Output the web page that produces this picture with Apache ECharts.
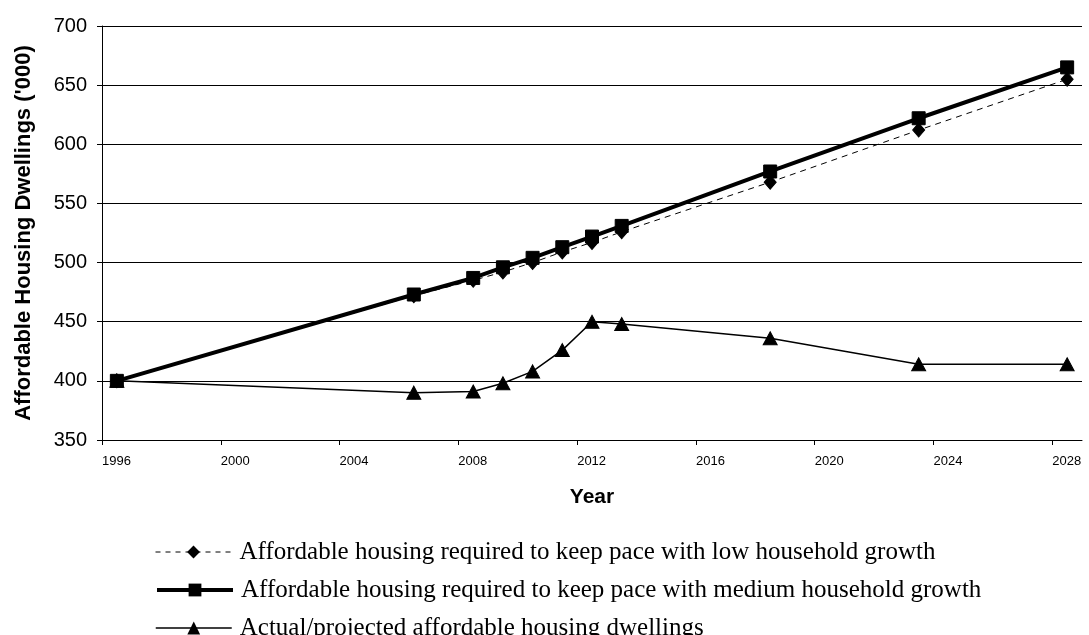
<!DOCTYPE html>
<html>
<head>
<meta charset="utf-8">
<script src="https://cdn.jsdelivr.net/npm/echarts@6/dist/echarts.min.js"></script>
<style>
html,body{margin:0;padding:0;background:#fff;}
#chart{width:1089px;height:635px;}
</style>
</head>
<body>
<div id="chart"></div>
<script>
var years = [1996.5, 2006.5, 2008.5, 2009.5, 2010.5, 2011.5, 2012.5, 2013.5, 2018.5, 2023.5, 2028.5];
var lowGrowth = [400, 472, 485, 492, 500, 509, 517, 526, 568, 612, 655];
var mediumGrowth = [400, 473, 487, 496, 504, 513, 522, 531, 577, 622, 665];
var actualDwellings = [400, 390, 391, 398, 408, 426, 450, 448, 436, 414, 414];
var xTickLabels = [1996, 2000, 2004, 2008, 2012, 2016, 2020, 2024, 2028];
var seriesNames = [
  'Affordable housing required to keep pace with low household growth',
  'Affordable housing required to keep pace with medium household growth',
  'Actual/projected affordable housing dwellings'
];

function pairs(xs, ys){ return xs.map(function(x,i){ return [x, ys[i]]; }); }

var legendLineStyles = [
  {width: 1, type: [5,5], color: '#000'},
  {width: 4, color: '#000'},
  {width: 1.5, color: '#000'}
];
var legends = seriesNames.map(function(n, i){
  return {
    orient: 'vertical', left: 150, top: 533 + i * 38,
    itemWidth: 76, itemHeight: 16, itemGap: 10,
    textStyle: {fontFamily: 'Liberation Serif', fontSize: 25, color: '#000', lineHeight: 28, padding: [0,0,0,3]},
    data: [{name: n, lineStyle: legendLineStyles[i]}]
  };
});

var chart = echarts.init(document.getElementById('chart'), null, {renderer:'canvas'});
chart.setOption({
  animation: false,
  backgroundColor: '#fff',
  grid: {left: 102, right: 7, top: 26, bottom: 195, containLabel: false},
  xAxis: {
    type: 'value', min: 1996, max: 2029, interval: 4,
    name: 'Year', nameLocation: 'middle', nameGap: 47,
    nameTextStyle: {fontFamily: 'Liberation Sans', fontWeight: 'bold', fontSize: 21, color: '#000'},
    axisLine: {show: true, lineStyle: {color: '#000', width: 1}},
    axisTick: {show: true, length: 5, inside: false, lineStyle: {color: '#000'}, customValues: xTickLabels},
    axisLabel: {customValues: xTickLabels, align: 'left', margin: 15, fontFamily: 'Liberation Sans', fontSize: 13, color: '#000',
      formatter: function(v){ return String(v); }},
    splitLine: {show: false}
  },
  yAxis: {
    type: 'value', min: 350, max: 700, interval: 50,
    name: "Affordable Housing Dwellings ('000)", nameLocation: 'middle', nameGap: 67,
    nameTextStyle: {fontFamily: 'Liberation Sans', fontWeight: 'bold', fontSize: 22, color: '#000'},
    axisLine: {show: true, lineStyle: {color: '#000', width: 1}},
    axisTick: {show: true, length: 5, lineStyle: {color: '#000'}},
    axisLabel: {margin: 15, fontFamily: 'Liberation Sans', fontSize: 20, color: '#000'},
    splitLine: {show: true, lineStyle: {color: '#000', width: 1}}
  },
  legend: legends,
  series: [
    {
      name: seriesNames[0], type: 'line', data: pairs(years, lowGrowth),
      symbol: 'diamond', symbolSize: [12,14], z: 3,
      lineStyle: {color: '#000', width: 1, type: [6,5]},
      itemStyle: {color: '#000', borderColor: '#000'}
    },
    {
      name: seriesNames[1], type: 'line', data: pairs(years, mediumGrowth),
      symbol: 'rect', symbolSize: 13, z: 2,
      lineStyle: {color: '#000', width: 4},
      itemStyle: {color: '#000', borderColor: '#000'}
    },
    {
      name: seriesNames[2], type: 'line', data: pairs(years, actualDwellings),
      symbol: 'triangle', symbolSize: [14,13], z: 4,
      lineStyle: {color: '#000', width: 1.5},
      itemStyle: {color: '#000', borderColor: '#000'}
    }
  ]
});
</script>
</body>
</html>
